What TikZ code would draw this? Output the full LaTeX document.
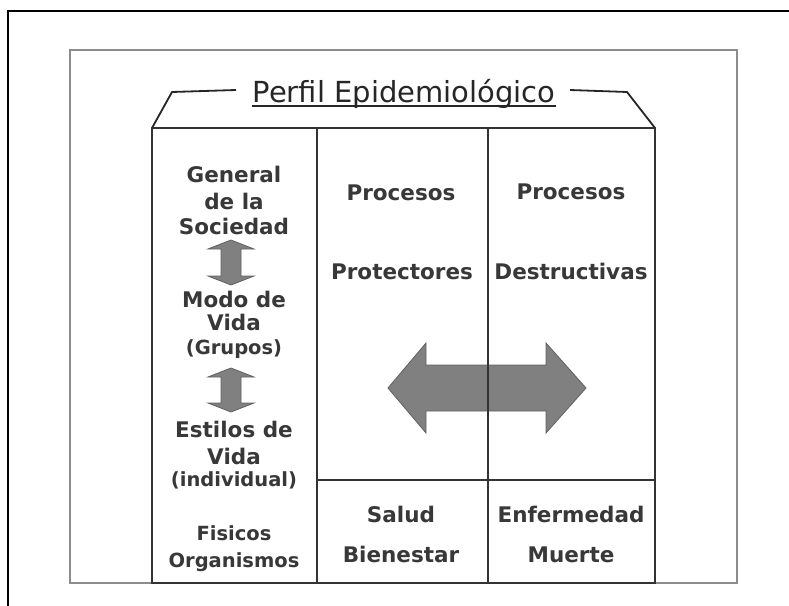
\documentclass[tikz,border=0pt]{standalone}
\usepackage{fontspec}
\setmainfont{DejaVu Sans}
\begin{document}
\begin{tikzpicture}[x=1pt,y=-1pt,
  lbl/.style={font=\fontsize{21.5}{24}\selectfont\bfseries, text=black!78, inner sep=0pt, anchor=base},
  sml/.style={lbl, font=\fontsize{19.5}{22}\selectfont\bfseries},
  ttl/.style={font=\fontsize{29}{32}\selectfont, text=black!85, inner sep=0pt, anchor=base},
  tline/.style={draw=black!80, line width=1.4pt},
  arr/.style={fill=black!50, draw=black!62, line width=0.8pt, line join=miter}]
\useasboundingbox (0,0) rectangle (789,605);
\clip (0,0) rectangle (789,605);
\fill[white] (0,0) rectangle (789,605);
% outer frame
\draw[line width=2pt, black] (8,11) rectangle (820,640);
% grey frame
\draw[line width=2pt, black!45] (70,50) rectangle (737,583);
% title and trapezoid
\node[ttl] (title) at (404,102) {Perfil Epidemiológico};
\draw[line width=1.6pt, black!85] ([yshift=-4pt]title.base west) -- ([yshift=-4pt]title.base east);
\coordinate (tl1) at (152,128);
\coordinate (tl2) at (172,92);
\coordinate (tl3) at (236,90);
\coordinate (tr1) at (570,90);
\coordinate (tr2) at (627,92);
\coordinate (tr3) at (655,128);
\draw[line width=1.8pt, black!85, line join=round] (tl3) -- (tl2) -- (tl1);
\draw[line width=1.8pt, black!85, line join=round] (tr1) -- (tr2) -- (tr3);
% big double arrow
\fill[arr] (388,388) -- (426,343) -- (426,365) -- (546,365) -- (546,343) -- (586,388)
  -- (546,433) -- (546,411) -- (426,411) -- (426,433) -- cycle;
% small vertical arrows
\fill[arr] (231,240) -- (254,249) -- (241,249) -- (241,276) -- (254,276) -- (231,285)
  -- (208,276) -- (221,276) -- (221,249) -- (208,249) -- cycle;
\fill[arr] (231,368) -- (254,377) -- (241,377) -- (241,403) -- (254,403) -- (231,412)
  -- (208,403) -- (221,403) -- (221,377) -- (208,377) -- cycle;
% table
\coordinate (tA) at (152,128);
\coordinate (tB) at (655,583);
\draw[tline] (tA) rectangle (tB);
\draw[tline] (317,128) -- (317,583);
\draw[tline] (488,128) -- (488,583);
\draw[tline] (317,480) -- (655,480);
% column 1
\node[lbl] (c1a) at (234,182) {General};
\node[lbl] (c1b) at (234,209) {de la};
\node[lbl] (c1c) at (234,234) {Sociedad};
\node[lbl] (c1d) at (234,307) {Modo de};
\node[lbl] (c1e) at (234,330) {Vida};
\node[sml] (c1f) at (234,354) {(Grupos)};
\node[lbl] (c1g) at (234,437) {Estilos de};
\node[lbl] (c1h) at (234,464) {Vida};
\node[sml] (c1i) at (234,486) {(individual)};
\node[sml] (c1j) at (234,540) {Fisicos};
\node[sml] (c1k) at (234,567) {Organismos};
% column 2
\node[lbl] (c2a) at (401,200) {Procesos};
\node[lbl] (c2b) at (402,279) {Protectores};
\node[lbl] (c2c) at (401,522) {Salud};
\node[lbl] (c2d) at (401,562) {Bienestar};
% column 3
\node[lbl] (c3a) at (571,199) {Procesos};
\node[lbl] (c3b) at (571,279) {Destructivas};
\node[lbl] (c3c) at (571,522) {Enfermedad};
\node[lbl] (c3d) at (571,562) {Muerte};
\end{tikzpicture}
\end{document}
